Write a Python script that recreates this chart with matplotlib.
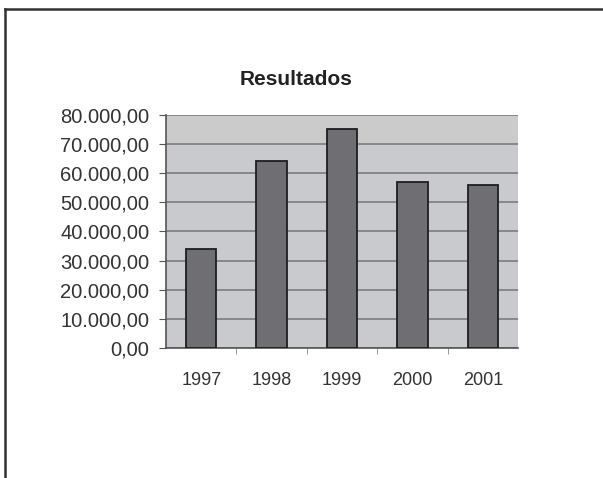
import matplotlib.pyplot as plt
from matplotlib.lines import Line2D
from matplotlib.ticker import FuncFormatter

# DATOS
years = ['1997', '1998', '1999', '2000', '2001']
results = [34000, 64300, 75100, 57100, 55900]
yticks = [0, 10000, 20000, 30000, 40000, 50000, 60000, 70000, 80000]

plt.rcParams['font.family'] = ['Liberation Sans', 'DejaVu Sans']

fig = plt.figure(figsize=(6.03, 4.78), dpi=100)
ax = fig.add_axes([0.2753, 0.272, 0.5837, 0.4874])

# fondo del area de trazado
ax.set_facecolor('#c9cacd')
ax.axhspan(70000, 80000, color='#cbcbcb', zorder=0)

x = range(len(years))
ax.bar(x, results, width=0.43, color='#6f6f73', edgecolor='#1e1e1e',
       linewidth=1.3, zorder=3)

ax.set_xlim(-0.5, len(years) - 0.5)
ax.set_ylim(0, 80000)
ax.set_yticks(yticks)
ax.yaxis.set_major_formatter(FuncFormatter(
    lambda v, p: '{:,.2f}'.format(v).replace(',', 'X').replace('.', ',').replace('X', '.')))
ax.set_xticks(list(x))
ax.set_xticklabels(years)
ax.set_xticks([i + 0.5 for i in range(len(years) - 1)], minor=True)

ax.grid(axis='y', color='#7c7c7c', linewidth=1.2, zorder=1)
ax.set_axisbelow(True)

for s in ['top', 'right']:
    ax.spines[s].set_visible(False)
for s in ['left', 'bottom']:
    ax.spines[s].set_color('#555555')
    ax.spines[s].set_linewidth(1.2)

ax.tick_params(axis='y', length=5, color='#555555', labelsize=14.5,
               labelcolor='#333333', pad=7)
ax.tick_params(axis='x', which='major', length=0, labelsize=13,
               labelcolor='#333333', pad=17)
ax.tick_params(axis='x', which='minor', length=4, color='#888888')

fig.text(0.491, 0.833, 'Resultados', ha='center', va='center',
         fontsize=15, fontweight='bold', color='#222222')

# marco de la pagina
fig.add_artist(Line2D([0.0075, 1.0], [0.981, 0.981], color='#333333',
                      linewidth=1.8, transform=fig.transFigure))
fig.add_artist(Line2D([0.0075, 0.0075], [0.0, 0.981], color='#333333',
                      linewidth=1.8, transform=fig.transFigure))

fig.savefig('out.png', dpi=100)
